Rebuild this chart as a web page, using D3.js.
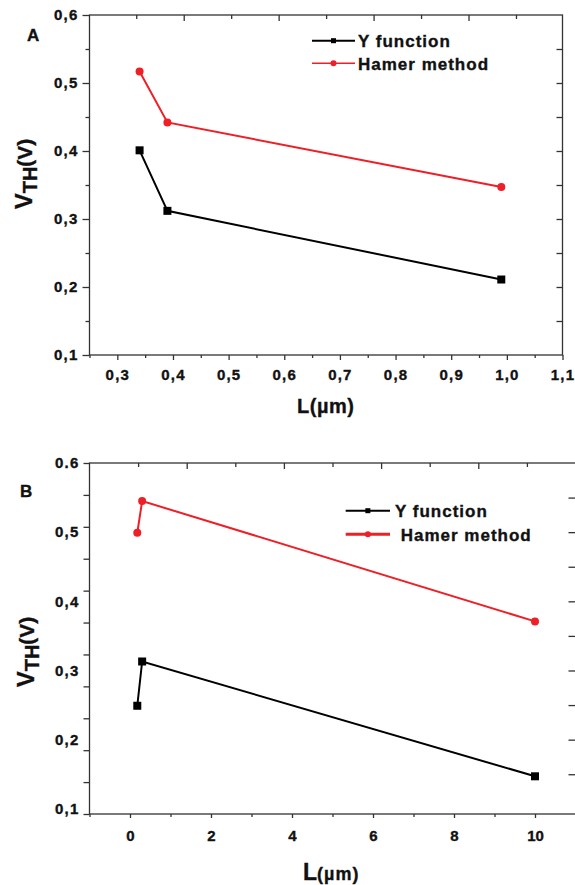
<!DOCTYPE html>
<html>
<head>
<meta charset="utf-8">
<script src="https://cdn.jsdelivr.net/npm/d3@7"></script>
<style>
  html, body { margin: 0; padding: 0; background: #fff; }
  svg { display: block; font-family: "Liberation Sans", Arial, sans-serif; font-weight: bold; }
  svg text { stroke: #111; stroke-width: 0.35px; }
</style>
</head>
<body>
<svg id="chart" width="575" height="885"></svg>
<script>
// ---------------- DATA ----------------
const seriesNames = ["Y function", "Hamer method"];

// Panel A
const lengthA = [0.34, 0.39, 0.99];
const yFunctionA = [0.401, 0.312, 0.211];
const hamerA = [0.517, 0.442, 0.347];
const xTicksA = [0.3, 0.4, 0.5, 0.6, 0.7, 0.8, 0.9, 1.0, 1.1];
const xTickLabelsA = ["0,3", "0,4", "0,5", "0,6", "0,7", "0,8", "0,9", "1,0", "1,1"];
const yTicksA = [0.1, 0.2, 0.3, 0.4, 0.5, 0.6];
const yTickLabelsA = ["0,1", "0,2", "0,3", "0,4", "0,5", "0,6"];

// Panel B
const lengthB = [0.18, 0.30, 10.0];
const yFunctionB = [0.249, 0.313, 0.147];
const hamerB = [0.499, 0.545, 0.371];
const xTicksB = [0, 2, 4, 6, 8, 10];
const xTickLabelsB = ["0", "2", "4", "6", "8", "10"];
const yTicksB = [0.1, 0.2, 0.3, 0.4, 0.5, 0.6];
const yTickLabelsB = ["0,1", "0,2", "0,3", "0,4", "0,5", "0.6"];

// ---------------- STYLE ----------------
const RED = "#ee1f26";
const BLACK = "#000";
const AXIS = "#333";

const svg = d3.select("#chart");

function fmtFrom(values, labels) {
  return v => { const i = values.findIndex(t => Math.abs(t - v) < 1e-9); return i >= 0 ? labels[i] : ""; };
}
function styleAxis(g) {
  g.select(".domain").remove();
  g.selectAll("line").attr("stroke", AXIS).attr("stroke-width", 1.3);
  g.selectAll("text").attr("fill", "#111").attr("font-weight", "bold")
    .attr("font-family", '"Liberation Sans", Arial, sans-serif');
}

function drawSeries(g, x, y, xs, ys, color, marker) {
  const pts = xs.map((v, i) => [v, ys[i]]);
  g.append("path").datum(pts)
    .attr("fill", "none").attr("stroke", color).attr("stroke-width", 2)
    .attr("d", d3.line().x(d => x(d[0])).y(d => y(d[1])));
  if (marker === "square") {
    g.selectAll(null).data(pts).enter().append("rect")
      .attr("x", d => x(d[0]) - 4).attr("y", d => y(d[1]) - 4)
      .attr("width", 8).attr("height", 8).attr("fill", color);
  } else {
    g.selectAll(null).data(pts).enter().append("circle")
      .attr("cx", d => x(d[0])).attr("cy", d => y(d[1])).attr("r", 4)
      .attr("fill", color);
  }
}

function drawLegend(g, x0, x1, yRows, textX, lineW) {
  const items = [
    { name: seriesNames[0], color: BLACK, marker: "square", w: lineW[0] },
    { name: seriesNames[1], color: RED, marker: "circle", w: lineW[1] }
  ];
  items.forEach((it, i) => {
    const yy = yRows[i];
    g.append("line").attr("x1", x0).attr("x2", x1).attr("y1", yy).attr("y2", yy)
      .attr("stroke", it.color).attr("stroke-width", it.w);
    const cx = (x0 + x1) / 2;
    if (it.marker === "square") {
      g.append("rect").attr("x", cx - 2.5).attr("y", yy - 2.5).attr("width", 5).attr("height", 5).attr("fill", it.color);
    } else {
      g.append("circle").attr("cx", cx).attr("cy", yy).attr("r", 3).attr("fill", it.color);
    }
    g.append("text").attr("x", textX[i]).attr("y", yy + 6.5)
      .attr("font-size", 17).attr("letter-spacing", 1).attr("fill", "#111")
      .text(it.name);
  });
}

function yTitle(cx, cy) {
  const t = svg.append("text")
    .attr("transform", `translate(${cx},${cy}) rotate(-90)`)
    .attr("text-anchor", "middle").attr("fill", "#111");
  t.append("tspan").attr("font-size", 24).text("V");
  t.append("tspan").attr("font-size", 20).attr("dy", 5).text("TH");
  t.append("tspan").attr("font-size", 21).attr("dy", -5).text("(V)");
}

// ================= PANEL A =================
const xA = d3.scaleLinear().domain([0.25, 1.1]).range([89.5, 562.5]);
const yA = d3.scaleLinear().domain([0.1, 0.6]).range([355, 15]);
const gA = svg.append("g");

gA.append("rect").attr("x", xA.range()[0]).attr("y", yA.range()[1])
  .attr("width", xA.range()[1] - xA.range()[0]).attr("height", yA.range()[0] - yA.range()[1])
  .attr("fill", "none").attr("stroke", AXIS).attr("stroke-width", 1.3);

gA.append("g").attr("transform", `translate(0,${yA.range()[0]})`)
  .call(d3.axisBottom(xA).tickValues(xTicksA).tickSize(5).tickPadding(9)
    .tickFormat(fmtFrom(xTicksA, xTickLabelsA)))
  .call(styleAxis)
  .call(g => g.selectAll("text").attr("font-size", 15).attr("letter-spacing", 1.2));
gA.append("g").attr("transform", `translate(0,${yA.range()[0]})`)
  .call(d3.axisBottom(xA).tickValues(xTicksA.map(v => v - 0.05)).tickSize(3).tickFormat(""))
  .call(styleAxis);

gA.append("g").attr("transform", `translate(${xA.range()[0]},0)`)
  .call(d3.axisLeft(yA).tickValues(yTicksA).tickSize(7).tickPadding(4)
    .tickFormat(fmtFrom(yTicksA, yTickLabelsA)))
  .call(styleAxis)
  .call(g => g.selectAll("text").attr("font-size", 15).attr("letter-spacing", 1.2));
gA.append("g").attr("transform", `translate(${xA.range()[0]},0)`)
  .call(d3.axisLeft(yA).tickValues(yTicksA.slice(1).map(v => v - 0.05)).tickSize(4).tickFormat(""))
  .call(styleAxis);

gA.append("g").attr("transform", `translate(${xA.range()[1]},0)`)
  .call(d3.axisRight(yA).tickValues(d3.range(9).map(i => 0.55 - i * 0.05)).tickSize(-6).tickFormat(""))
  .call(styleAxis);

const topTicksA = d3.range(9).map(i => 0.334 + i * 0.0853);
gA.append("g").attr("transform", `translate(0,${yA.range()[1]})`)
  .call(d3.axisTop(xA).tickValues(topTicksA.filter((d, i) => i % 2 === 0)).tickSize(-4).tickFormat(""))
  .call(styleAxis);
gA.append("g").attr("transform", `translate(0,${yA.range()[1]})`)
  .call(d3.axisTop(xA).tickValues(topTicksA.filter((d, i) => i % 2 === 1)).tickSize(-6).tickFormat(""))
  .call(styleAxis);

drawSeries(gA, xA, yA, lengthA, yFunctionA, BLACK, "square");
drawSeries(gA, xA, yA, lengthA, hamerA, RED, "circle");
drawLegend(gA, 312, 355, [40.7, 63.3], [358, 358], [2, 1.5]);

gA.append("text").attr("x", 27).attr("y", 41).attr("font-size", 17).attr("fill", "#111").text("A");
gA.append("text").attr("x", 297).attr("y", 413).attr("font-size", 20).attr("letter-spacing", 0.5)
  .attr("fill", "#111").text("L(µm)");
yTitle(32, 174);

// ================= PANEL B =================
const xB = d3.scaleLinear().domain([-1, 11]).range([89.5, 575.5]);
const yB = d3.scaleLinear().domain([0.0925, 0.6]).range([814, 463]);
const gB = svg.append("g");

gB.append("rect").attr("x", xB.range()[0]).attr("y", yB.range()[1])
  .attr("width", xB.range()[1] - xB.range()[0] + 1).attr("height", yB.range()[0] - yB.range()[1])
  .attr("fill", "none").attr("stroke", AXIS).attr("stroke-width", 1.3);

gB.append("g").attr("transform", `translate(0,${yB.range()[0]})`)
  .call(d3.axisBottom(xB).tickValues(xTicksB).tickSize(4).tickPadding(12)
    .tickFormat(fmtFrom(xTicksB, xTickLabelsB)))
  .call(styleAxis)
  .call(g => g.selectAll("text").attr("font-size", 15));
gB.append("g").attr("transform", `translate(0,${yB.range()[0]})`)
  .call(d3.axisBottom(xB).tickValues(xTicksB.map(v => v - 1).concat([11])).tickSize(3).tickFormat(""))
  .call(styleAxis);

const d0 = yB.domain()[0], d1 = yB.domain()[1];
const leftTicksB = d3.range(12).map(i => d0 + i * (d1 - d0) / 11);
gB.append("g").attr("transform", `translate(${xB.range()[0]},0)`)
  .call(d3.axisLeft(yB).tickValues(leftTicksB).tickSize(6).tickFormat(""))
  .call(styleAxis);
gB.append("g").attr("transform", `translate(${xB.range()[0]},0)`)
  .call(d3.axisLeft(yB).tickValues(yTicksB).tickSize(0).tickPadding(10)
    .tickFormat(fmtFrom(yTicksB, yTickLabelsB)))
  .call(styleAxis)
  .call(g => g.selectAll("text").attr("font-size", 15).attr("letter-spacing", 1.2));

gB.append("g").attr("transform", `translate(${xB.range()[1]},0)`)
  .call(d3.axisRight(yB).tickValues(d3.range(9).map(i => 0.55 - i * 0.05)).tickSize(-7).tickFormat(""))
  .call(styleAxis);

const topTicksB = d3.range(9).map(i => 0.2 + i * 1.2);
gB.append("g").attr("transform", `translate(0,${yB.range()[1]})`)
  .call(d3.axisTop(xB).tickValues(topTicksB.filter((d, i) => i % 2 === 0)).tickSize(-4).tickFormat(""))
  .call(styleAxis);
gB.append("g").attr("transform", `translate(0,${yB.range()[1]})`)
  .call(d3.axisTop(xB).tickValues(topTicksB.filter((d, i) => i % 2 === 1)).tickSize(-6).tickFormat(""))
  .call(styleAxis);

drawSeries(gB, xB, yB, lengthB, yFunctionB, BLACK, "square");
drawSeries(gB, xB, yB, lengthB, hamerB, RED, "circle");
drawLegend(gB, 345.7, 390, [510.7, 534.3], [395, 400.7], [2, 3]);

gB.append("text").attr("x", 20).attr("y", 497).attr("font-size", 17).attr("fill", "#111").text("B");
const tB = gB.append("text").attr("x", 303).attr("y", 880).attr("fill", "#111");
tB.append("tspan").attr("font-size", 23).text("L");
tB.append("tspan").attr("font-size", 18).attr("letter-spacing", 1).text("(µm)");
yTitle(33.5, 652);
</script>
</body>
</html>
